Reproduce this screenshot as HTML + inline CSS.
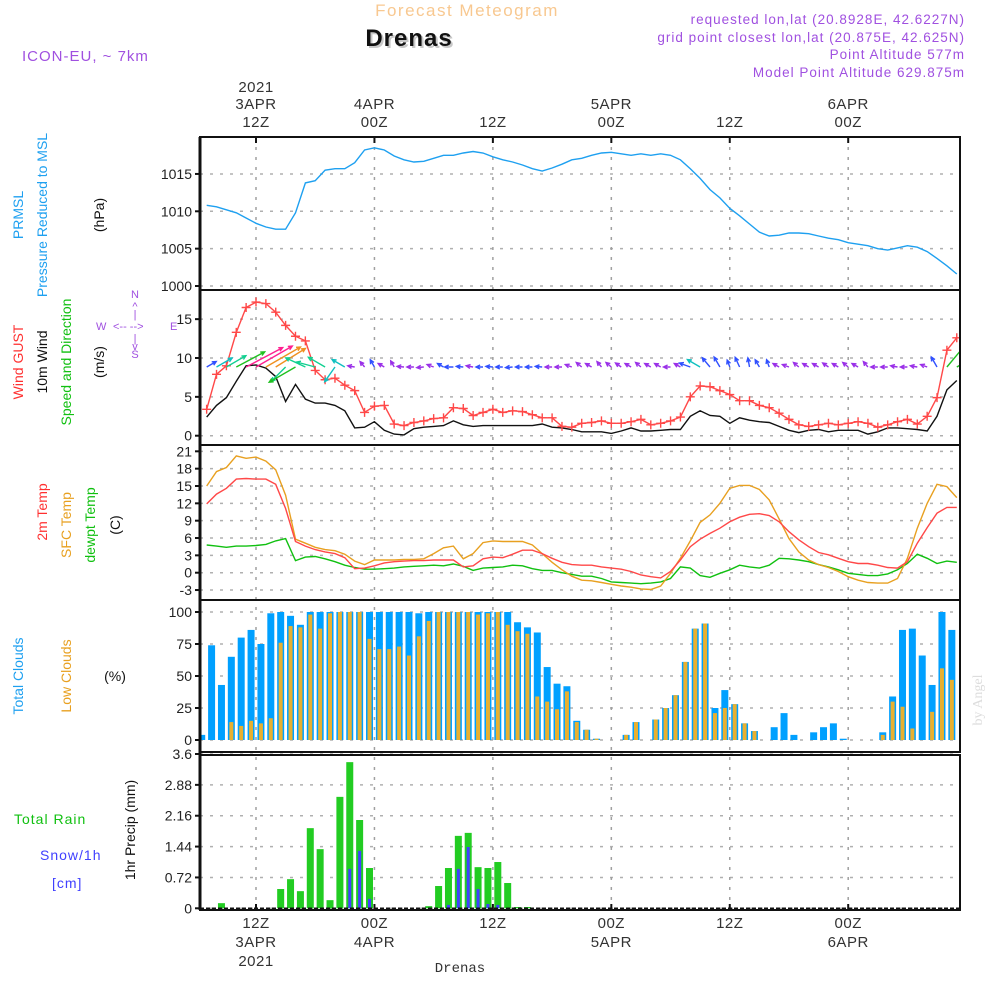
<!DOCTYPE html>
<html><head><meta charset="utf-8"><title>Forecast Meteogram Drenas</title>
<style>
html,body{margin:0;padding:0;background:#fff;width:1000px;height:1000px;overflow:hidden}
svg{display:block;font-family:"Liberation Sans",sans-serif}
</style></head>
<body>
<svg id="chart" width="1000" height="1000" viewBox="0 0 1000 1000" xmlns="http://www.w3.org/2000/svg">
<defs><clipPath id="plotclip"><rect x="200" y="137" width="760" height="773"/></clipPath></defs>
<g>
<text x="467" y="16" font-size="17" fill="#f8c890" text-anchor="middle" letter-spacing="1.5">Forecast Meteogram</text>
<text x="411" y="48" font-size="24" font-weight="bold" fill="#c8c8c8" text-anchor="middle" letter-spacing="1">Drenas</text>
<text x="409" y="46" font-size="24" font-weight="bold" fill="#111" text-anchor="middle" letter-spacing="1">Drenas</text>
<text x="22" y="61" font-size="15" fill="#a050e0" letter-spacing="1">ICON-EU, ~ 7km</text>
<text x="965" y="24" font-size="13.5" fill="#a050e0" text-anchor="end" letter-spacing="1">requested lon,lat (20.8928E, 42.6227N)</text>
<text x="965" y="42" font-size="13.5" fill="#a050e0" text-anchor="end" letter-spacing="1">grid point closest lon,lat (20.875E, 42.625N)</text>
<text x="965" y="59" font-size="13.5" fill="#a050e0" text-anchor="end" letter-spacing="1">Point Altitude 577m</text>
<text x="965" y="77" font-size="13.5" fill="#a050e0" text-anchor="end" letter-spacing="1">Model Point Altitude 629.875m</text>
</g>
<g font-size="14">
<text transform="translate(23,215) rotate(-90)" text-anchor="middle" fill="#1ea0f0">PRMSL</text>
<text transform="translate(47,215) rotate(-90)" text-anchor="middle" fill="#1ea0f0">Pressure Reduced to MSL</text>
<text transform="translate(104,215) rotate(-90)" text-anchor="middle" fill="#111">(hPa)</text>
<text transform="translate(23,362) rotate(-90)" text-anchor="middle" fill="#ff3030">Wind GUST</text>
<text transform="translate(47,362) rotate(-90)" text-anchor="middle" fill="#111">10m Wind</text>
<text transform="translate(71,362) rotate(-90)" text-anchor="middle" fill="#10c010">Speed and Direction</text>
<text transform="translate(104,362) rotate(-90)" text-anchor="middle" fill="#111">(m/s)</text>
<g fill="#a050e0" font-size="11">
<text x="135" y="298" text-anchor="middle">N</text>
<text x="135" y="310" text-anchor="middle">^</text>
<text x="135" y="318" text-anchor="middle">|</text>
<text x="96" y="330">W</text>
<text x="113" y="330">&lt;-- --&gt;</text>
<text x="170" y="330">E</text>
<text x="135" y="342" text-anchor="middle">|</text>
<text x="135" y="350" text-anchor="middle">v</text>
<text x="135" y="358" text-anchor="middle">S</text>
</g>
<text transform="translate(47,512) rotate(-90)" text-anchor="middle" fill="#ff3030">2m Temp</text>
<text transform="translate(71,525) rotate(-90)" text-anchor="middle" fill="#e8a020">SFC Temp</text>
<text transform="translate(95,525) rotate(-90)" text-anchor="middle" fill="#10c010">dewpt Temp</text>
<text transform="translate(120,525) rotate(-90)" text-anchor="middle" fill="#111">(C)</text>
<text transform="translate(23,676) rotate(-90)" text-anchor="middle" fill="#1ea0f0">Total Clouds</text>
<text transform="translate(71,676) rotate(-90)" text-anchor="middle" fill="#e8a020">Low Clouds</text>
<text x="115" y="681" text-anchor="middle" fill="#111">(%)</text>
<text x="14" y="824" fill="#10c010" letter-spacing="1">Total  Rain</text>
<text x="40" y="860" fill="#4040ff" letter-spacing="1">Snow/1h</text>
<text x="52" y="888" fill="#4040ff" letter-spacing="1">[cm]</text>
<text transform="translate(135,830) rotate(-90)" text-anchor="middle" fill="#111">1hr Precip (mm)</text>
<text transform="translate(982,700) rotate(-90)" text-anchor="middle" fill="#dddddd" font-family="Liberation Serif,serif" font-size="14">by Angel</text>
<text x="460" y="972" text-anchor="middle" fill="#333" font-family="Liberation Mono,monospace" font-size="14">Drenas</text>
</g>
<g id="grid"></g>
<g id="marks" clip-path="url(#plotclip)"></g>
<g id="frame"></g>
<g id="labels"></g>
</svg>
<script>
// ---- data (hourly, line points start 3APR 07Z; bars centred half hour earlier) ----
const pressure = [1010.8,1010.6,1010.2,1009.8,1009.1,1008.4,1007.9,1007.6,1007.6,1009.8,1013.8,1014.1,1015.5,1015.7,1015.7,1016.5,1018.2,1018.5,1018.2,1017.4,1016.9,1016.6,1016.7,1017.1,1017.5,1017.5,1017.8,1018.0,1017.8,1017.3,1016.9,1016.6,1016.2,1015.7,1015.4,1015.8,1016.3,1016.9,1017.1,1017.5,1017.8,1017.9,1017.7,1017.5,1017.7,1017.5,1017.7,1017.5,1016.9,1015.7,1014.4,1012.9,1011.8,1010.4,1009.4,1008.3,1007.2,1006.7,1006.8,1007.1,1007.1,1007.0,1006.7,1006.4,1006.2,1005.8,1005.6,1005.4,1005.0,1004.8,1005.1,1005.4,1005.2,1004.6,1003.7,1002.7,1001.6];
const gust = [3.4,7.9,9.0,13.3,16.5,17.2,17.0,15.9,14.2,12.8,12.2,8.4,7.2,7.4,6.5,5.8,3.0,3.8,3.9,1.5,1.3,1.7,1.9,2.2,2.3,3.6,3.5,2.6,3.0,3.4,3.0,3.2,3.1,2.7,2.3,2.3,1.2,1.1,1.6,1.7,1.9,1.6,1.6,1.8,2.1,1.4,1.6,1.9,2.4,5.0,6.4,6.3,5.8,5.3,4.5,4.5,3.9,3.6,2.9,2.1,1.4,1.2,1.4,1.6,1.4,1.6,1.8,1.6,1.1,1.4,1.8,2.1,1.5,2.5,4.9,11.0,12.6];
const wind10 = [2.4,3.9,4.9,7.0,9.0,9.1,8.7,7.6,4.4,6.6,4.7,4.2,4.2,3.9,3.2,1.0,1.1,1.8,0.7,0.2,0.1,0.9,1.1,1.2,1.3,1.9,1.4,1.2,1.3,1.3,1.3,1.3,1.3,1.3,1.5,1.1,1.0,0.8,0.5,0.5,0.5,0.3,0.6,1.0,0.6,0.6,0.7,0.8,0.8,2.5,3.2,2.6,2.5,1.6,2.3,2.0,1.8,1.7,1.2,0.7,0.4,0.7,0.8,0.5,0.7,0.7,0.7,0.2,0.5,1.0,1.0,0.9,0.8,0.6,2.5,5.9,7.1];
const windDir = [60,60,60,62,62,60,60,58,225,240,295,285,300,215,300,280,320,330,300,330,275,270,265,290,300,270,275,280,270,275,270,265,270,270,275,270,270,290,310,300,320,310,305,300,310,300,300,270,300,290,300,320,330,340,335,350,330,340,300,290,310,300,300,305,300,310,300,320,270,270,280,270,280,290,330,40,60];
const temp2m = [11.9,13.6,14.6,16.2,16.3,16.2,16.2,15.3,11.1,5.4,4.6,4.0,3.6,3.3,2.6,0.7,0.8,1.2,1.7,1.9,2.0,2.1,2.1,2.2,2.2,2.2,1.0,1.2,2.4,2.7,2.6,3.2,3.9,3.9,3.3,2.5,1.8,1.4,1.3,1.3,1.0,0.8,0.6,0.2,-0.4,-0.7,-0.9,0.2,2.2,4.5,5.8,6.8,7.7,8.8,9.6,10.1,10.2,9.9,8.8,7.1,5.7,4.5,3.5,3.1,2.5,1.9,1.6,1.6,1.3,0.9,0.8,1.9,5.1,7.8,10.3,11.3,11.3];
const tempSfc = [15.0,17.5,18.2,20.2,19.8,20.0,19.3,17.8,13.4,5.8,5.1,4.4,4.0,3.8,3.2,2.0,1.4,2.2,2.2,2.2,2.3,2.3,2.4,3.3,4.3,4.6,2.4,3.3,5.2,5.5,5.4,5.4,5.4,4.8,3.3,1.8,0.5,-0.6,-1.3,-1.4,-1.7,-2.0,-2.3,-2.5,-2.8,-2.9,-2.3,-0.1,2.5,5.5,8.7,10.0,12.0,14.6,15.1,15.1,14.4,12.6,9.3,5.9,3.6,2.2,1.4,0.9,0.2,-0.7,-1.3,-1.7,-1.8,-1.8,-1.0,2.5,7.7,12.0,15.3,14.9,13.0];
const dewpt = [4.8,4.6,4.4,4.6,4.6,4.7,4.9,5.5,5.9,2.1,2.7,2.8,2.4,1.9,1.3,0.9,0.6,0.6,0.7,0.8,1.0,1.1,1.2,1.3,1.2,1.5,1.1,0.4,0.8,0.9,1.0,1.3,1.2,0.7,0.4,0.4,0.0,-0.3,-0.6,-0.6,-1.0,-1.6,-1.7,-1.8,-1.9,-1.8,-1.6,-1.0,1.0,0.8,-0.5,-0.8,-0.1,0.5,1.3,1.0,0.8,1.3,2.5,2.4,2.2,1.9,1.4,1.0,0.5,-0.1,-0.3,-0.5,-0.5,-0.2,0.5,1.6,3.2,2.5,1.6,2.0,1.8];
const totalClouds = [4,74,43,65,80,86,75,99,100,97,90,100,100,100,100,100,100,100,100,100,100,100,99,100,100,100,100,100,100,100,100,100,92,88,84,57,44,42,15,8,1,0,0,4,14,0,16,25,35,61,87,91,25,39,28,13,7,0,10,21,4,0,6,10,13,1,0,0,0,6,34,86,87,66,43,100,86];
const lowClouds = [0,0,0,14,11,15,13,17,76,89,88,98,87,99,100,100,100,79,71,71,73,66,81,93,100,100,100,100,98,99,100,90,85,83,34,30,24,38,14,8,1,0,0,4,14,0,16,25,35,61,87,91,21,25,28,13,7,0,0,0,0,0,0,0,0,0,0,0,0,4,30,26,9,0,22,56,47];
const rain = [0,0,0.12,0,0,0,0,0,0.45,0.68,0.40,1.87,1.38,0.19,2.60,3.41,2.06,0.94,0,0,0,0,0,0.05,0.52,0.94,1.69,1.76,0.96,0.94,1.08,0.59,0.03,0.03,0,0,0,0,0,0,0,0,0,0,0,0,0,0,0,0,0,0,0,0,0,0,0,0,0,0,0,0,0,0,0,0,0,0,0,0,0,0,0,0,0,0,0];
const snow = [0,0,0,0,0,0,0,0,0,0,0,0,0,0,0,0.92,1.34,0.22,0,0,0,0,0,0,0,0.08,0.92,1.43,0.45,0.10,0.08,0.01,0,0,0,0,0,0,0,0,0,0,0,0,0,0,0,0,0,0,0,0,0,0,0,0,0,0,0,0,0,0,0,0,0,0,0,0,0,0,0,0,0,0,0,0,0];
const pressureTicks = [1000,1005,1010,1015];
const windTicks = [0,5,10,15];
const tempTicks = [-3,0,3,6,9,12,15,18,21];
const cloudTicks = [0,25,50,75,100];
const precipTicks = ["0","0.72","1.44","2.16","2.88","3.6"];
const timeTicks = [12,24,36,48,60,72];
const topTickLabels = ["12Z","00Z","12Z","00Z","12Z","00Z"];
const topDayLabels = ["3APR","4APR","","5APR","","6APR"];

// ---- scales ----
const X0 = 200, X1 = 960;
const X = t => 256 + (t - 12) * 9.87;
const lineT = i => 7 + i;
const barT = i => 6.5 + i;
const yP = v => 286 - (v - 1000) * 7.47;
const yW = v => 435.7 - v * 7.77;
const yT = v => 572.7 - v * 5.78;
const yC = v => 740 - v * 1.28;
const yR = v => 908.3 - v * (154.3 / 3.6);
const panels = [[137,290],[290,445],[445,600],[600,752],[755,910]];

const NS = "http://www.w3.org/2000/svg";
function mk(tag, attrs, parent) {
  const e = document.createElementNS(NS, tag);
  for (const k in attrs) e.setAttribute(k, attrs[k]);
  parent.appendChild(e);
  return e;
}
const grid = document.getElementById('grid');
const marks = document.getElementById('marks');
const frame = document.getElementById('frame');
const labels = document.getElementById('labels');

// ---- grid ----
function hgrid(ticks, yf, name) {
  ticks.forEach(v => {
    const y = yf(parseFloat(v));
    const l = mk('line', {x1: X0, x2: X1, y1: y, y2: y, stroke: '#b0b0b0', 'stroke-width': 1.5, 'stroke-dasharray': '3,7'}, grid);
    
    
  });
}
hgrid(pressureTicks, yP, 'pressure');
hgrid(windTicks, yW, 'wind');
hgrid(tempTicks, yT, 'temp');
hgrid(cloudTicks, yC, 'cloud');
hgrid(precipTicks, yR, 'precip');
timeTicks.forEach(t => {
  const l = mk('line', {x1: X(t), x2: X(t), y1: 137, y2: 910, stroke: '#a0a0a0', 'stroke-width': 1.5, 'stroke-dasharray': '3,7'}, grid);
  
  
});

// ---- pressure line ----
function polyline(vals, yf, color, name, w) {
  const pts = vals.map((v, i) => X(lineT(i)).toFixed(1) + ',' + yf(v).toFixed(1)).join(' ');
  const p = mk('polyline', {points: pts, fill: 'none', stroke: color, 'stroke-width': w || 1.4}, marks);
  
  
}
polyline(pressure, yP, '#1ea0f0', 'pressure-line');

// ---- wind ----
polyline(wind10, yW, '#111', 'wind-10m-line');
polyline(gust, yW, '#ff4848', 'wind-gust-line');
gust.forEach((v, i) => {
  const x = X(lineT(i)), y = yW(v);
  const g = mk('path', {d: `M${x-4.5},${y}H${x+4.5}M${x},${y-4.5}V${y+4.5}`, stroke: '#ff4848', 'stroke-width': 1.4}, marks);
  
  
});
function windColor(s) {
  if (s < 1.3) return '#9a30e8';
  if (s < 2.7) return '#3050ff';
  if (s < 4) return '#10c0c0';
  if (s < 5.5) return '#10d090';
  if (s < 7.5) return '#20c020';
  if (s < 8.8) return '#f09020';
  return '#ff2090';
}
wind10.forEach((s, i) => {
  const b = windDir[i] * Math.PI / 180;
  const L = Math.max(7, s * 4.6);
  const x0 = X(lineT(i)), y0 = 367;
  const x1 = x0 + L * Math.sin(b), y1 = y0 - L * Math.cos(b);
  const a1 = b + Math.PI - 0.45, a2 = b + Math.PI + 0.45;
  const h = 4.5;
  const c = windColor(s);
  const d = `M${x0.toFixed(1)},${y0}L${x1.toFixed(1)},${y1.toFixed(1)}M${(x1 + h*Math.sin(a1)).toFixed(1)},${(y1 - h*Math.cos(a1)).toFixed(1)}L${x1.toFixed(1)},${y1.toFixed(1)}L${(x1 + h*Math.sin(a2)).toFixed(1)},${(y1 - h*Math.cos(a2)).toFixed(1)}`;
  const a = mk('path', {d: d, stroke: c, 'stroke-width': 1.4, fill: 'none'}, marks);
  
  
});

// ---- temperatures ----
polyline(dewpt, yT, '#10c010', 'dewpoint-line');
polyline(tempSfc, yT, '#e8a020', 'sfc-temp-line');
polyline(temp2m, yT, '#ff4848', 'temp-2m-line');

// ---- clouds ----
totalClouds.forEach((v, i) => {
  const x = X(barT(i));
  const r = mk('rect', {x: x - 3.5, y: yC(v), width: 7, height: yC(0) - yC(v), fill: '#00a0ff'}, marks);
  
  
});
lowClouds.forEach((v, i) => {
  const x = X(barT(i));
  const r = mk('rect', {x: x - 2, y: yC(v), width: 4, height: yC(0) - yC(v), fill: '#e8b030'}, marks);
  
  
});

// ---- precip ----
rain.forEach((v, i) => {
  if (v <= 0) return;
  const x = X(barT(i));
  const r = mk('rect', {x: x - 3.5, y: yR(v), width: 7, height: yR(0) - yR(v), fill: '#22cc22'}, marks);
  
  
});
snow.forEach((v, i) => {
  if (v <= 0) return;
  const x = X(barT(i));
  const r = mk('rect', {x: x - 1.5, y: yR(v), width: 3, height: yR(0) - yR(v), fill: '#4040ff'}, marks);
  
  
});
const z = mk('line', {x1: X0, x2: X1, y1: yR(0), y2: yR(0), stroke: '#111', 'stroke-width': 1.5, 'stroke-dasharray': '4,2'}, marks);



// ---- frame ----
panels.forEach(p => {
  const r = mk('rect', {x: X0, y: p[0], width: X1 - X0, height: p[1] - p[0], fill: 'none', stroke: '#111', 'stroke-width': 2}, frame);
  
  
});
const lb = mk('line', {x1: X0, x2: X0, y1: 137, y2: 910, stroke: '#111', 'stroke-width': 3}, frame);



// ---- y tick labels ----
function ylabels(ticks, yf, name) {
  ticks.forEach(v => {
    const y = yf(parseFloat(v));
    const tk = mk('line', {x1: X0 - 5, x2: X0, y1: y, y2: y, stroke: '#111', 'stroke-width': 2}, labels);
    
    
    const t = mk('text', {x: X0 - 8, y: y + 5, 'font-size': 14, 'text-anchor': 'end', fill: '#222'}, labels);
    t.textContent = String(v);
    
    
  });
}
ylabels(pressureTicks, yP, 'pressure');
ylabels(windTicks, yW, 'wind');
ylabels(tempTicks, yT, 'temp');
ylabels(cloudTicks, yC, 'cloud');
ylabels(precipTicks, yR, 'precip');

// ---- time labels ----
function tl(x, y, s, name) {
  const t = mk('text', {x: x, y: y, 'font-size': 15, 'text-anchor': 'middle', fill: '#333', 'letter-spacing': 0.5}, labels);
  t.textContent = s;
  
  
}
timeTicks.forEach((t, k) => {
  const x = X(t);
  tl(x, 127, topTickLabels[k], 'top-hour-label');
  if (topDayLabels[k]) tl(x, 109, topDayLabels[k], 'top-day-label');
  tl(x, 928, topTickLabels[k], 'bottom-hour-label');
  if (topDayLabels[k]) tl(x, 947, topDayLabels[k], 'bottom-day-label');
  [[137, 143], [904, 910]].forEach(yy => {
    const m = mk('line', {x1: x, x2: x, y1: yy[0], y2: yy[1], stroke: '#111', 'stroke-width': 2}, labels);
    
    
  });
});
tl(X(12), 92, '2021', 'top-year-label');
tl(X(12), 966, '2021', 'bottom-year-label');
</script>
</body></html>
